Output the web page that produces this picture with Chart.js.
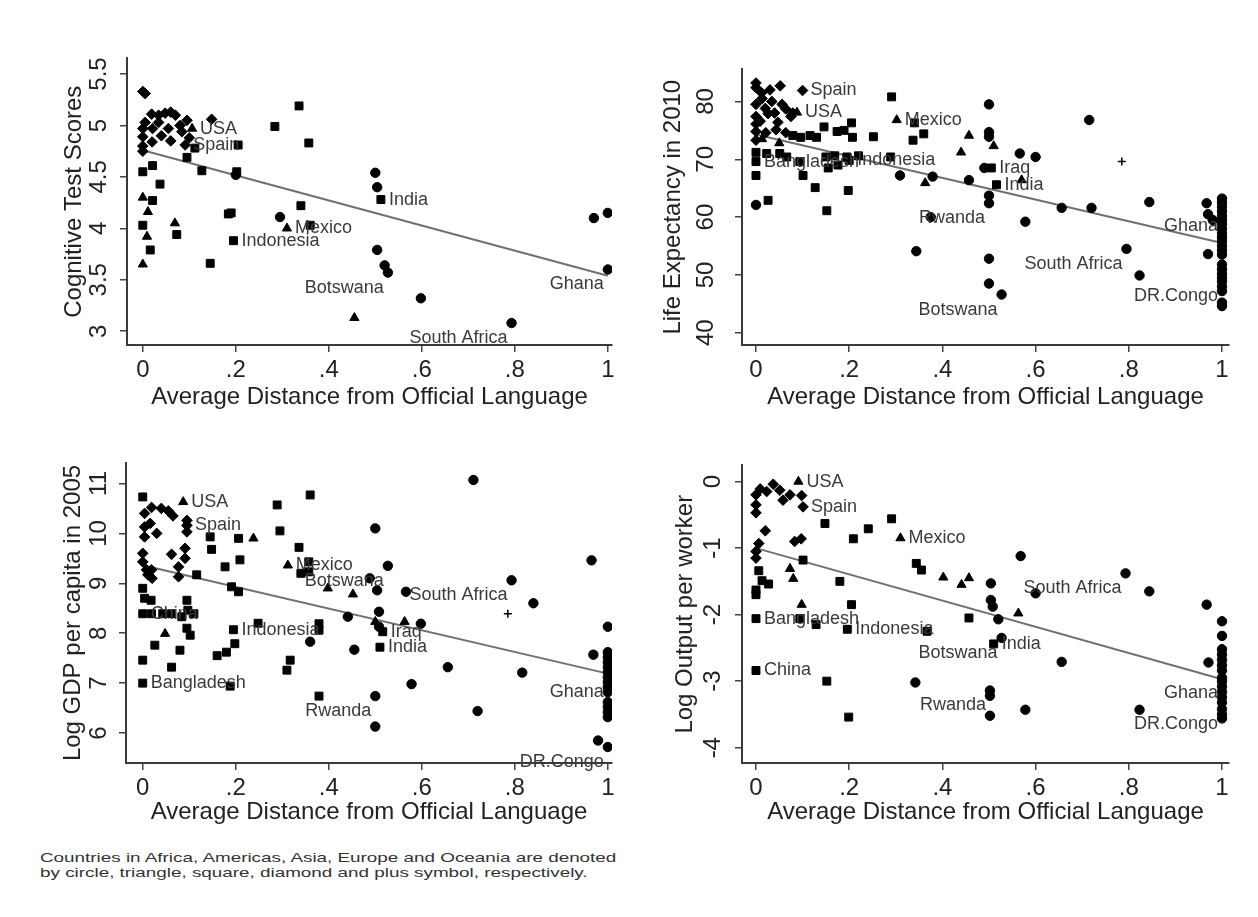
<!DOCTYPE html>
<html>
<head>
<meta charset="utf-8">
<title>Distance from official language</title>
<script src="https://cdn.jsdelivr.net/npm/chart.js@4.4.0/dist/chart.umd.min.js"></script>
<style>
  html, body { margin: 0; padding: 0; background: #fff; }
  body { width: 1258px; height: 917px; position: relative; overflow: hidden; }
  canvas { position: absolute; }
  #note {
    position: absolute; left: 40px; top: 850px;
    font: 13px "Liberation Sans", Arial, sans-serif; line-height: 15px; color: #333;
    white-space: nowrap; transform: scaleX(1.45); transform-origin: 0 0;
  }
</style>
</head>
<body>
<canvas id="p1" width="585" height="380" style="left:40px;top:40px"></canvas>
<canvas id="p2" width="590" height="380" style="left:650px;top:40px"></canvas>
<canvas id="p3" width="585" height="390" style="left:40px;top:440px"></canvas>
<canvas id="p4" width="590" height="390" style="left:650px;top:440px"></canvas>
<div id="note">Countries in Africa, Americas, Asia, Europe and Oceania are denoted<br>by circle, triangle, square, diamond and plus symbol, respectively.</div>
<script>
// shared x axis
const xTitle = 'Average Distance from Official Language';
const xTickValues = [0, 0.2, 0.4, 0.6, 0.8, 1];
const xTickLabels = ['0', '.2', '.4', '.6', '.8', '1'];

// panel 1: cognitive test scores
const cogAfrica = [[.2,4.52],[.295,4.11],[.5,4.54],[.504,4.4],[.504,3.79],[.52,3.64],[.527,3.57],[.598,3.32],[.793,3.08],[.97,4.1],[1,4.15],[1,3.6]];
const cogAmericas = [[.106,4.97],[0,4.30],[.011,4.16],[.069,4.05],[.009,3.92],[0,3.65],[.31,4.0],[.455,3.13]];
const cogAsia = [[.205,4.81],[.284,4.99],[.336,5.19],[.357,4.83],[.127,4.56],[.202,4.55],[0,4.55],[.021,4.61],[.037,4.43],[.021,4.27],[0,4.03],[.073,3.94],[.016,3.79],[.145,3.66],[.184,4.14],[.19,4.15],[.195,3.88],[.36,4.03],[.34,4.22],[.512,4.28],[.112,4.78],[.095,4.69]];
const cogEurope = [[0,5.33],[.005,5.31],[.048,5.12],[.019,5.11],[.034,5.1],[.06,5.13],[.005,5.03],[.034,5.03],[.055,4.97],[0,4.97],[.021,4.97],[0,4.89],[0,4.8],[0,4.75],[.095,5.05],[.148,5.06],[.084,4.94],[.091,4.81],[.07,5.1],[.08,5.0],[.04,4.9],[.06,4.85],[.1,4.88],[.02,4.84]];
const cogOceania = [];
const cogFit = [[0,4.76],[1,3.54]];
const cogLabels = [['USA',.106,4.97],['Spain',.091,4.81],['Indonesia',.195,3.88],['Mexico',.31,4.0],['India',.512,4.28],['Botswana',.527,3.57],['South Africa',.793,3.08],['Ghana',1,3.6]];
const cogTicks = [3, 3.5, 4, 4.5, 5, 5.5];
const cogTickLabels = ['3', '3.5', '4', '4.5', '5', '5.5'];

// panel 2: life expectancy
const lifeAfrica = [[.375,60],[.309,67.2],[.379,67],[.5,79.5],[.5,74.7],[.5,73.9],[.566,71],[.6,70.4],[.49,68.5],[.457,66.4],[.5,63.7],[.5,62.4],[.656,61.6],[.72,61.6],[.844,62.6],[.715,76.8],[.578,59.2],[.344,54.1],[.5,52.8],[.795,54.5],[.823,49.9],[.5,48.5],[.527,46.6],[.967,62.4],[.97,60.5],[.98,59.5],[.97,53.6],[1,63.2],[1,62.5],[1,61.8],[1,61],[1,60.2],[1,59.5],[1,58.8],[1,58],[1,57.2],[1,56.5],[1,55.8],[1,55],[1,54.2],[1,53.5],[1,51.8],[1,51],[1,50.2],[1,49.5],[1,48.9],[1,48],[1,47.2],[1,45.2],[1,44.6],[0,62.1]];
const lifeAmericas = [[.088,78.1],[.302,76.8],[.363,65.9],[.44,71.2],[.457,74.1],[.51,72.3],[.57,66.4],[.013,73.5],[.05,72.8]];
const lifeAsia = [[.291,80.8],[.079,74.1],[.096,73.8],[.116,74.1],[.13,73.8],[.146,75.6],[.174,74.8],[.189,75],[.205,76.3],[.207,73.8],[.252,73.9],[.34,76.3],[.337,73.3],[.36,74.4],[0,71.2],[0,69.6],[.023,71],[.051,71],[.066,70.4],[.094,69.6],[.15,70.4],[.169,70.6],[.176,69],[.155,68.5],[.195,70.4],[.2,69.8],[.22,70.6],[.289,70.4],[0,67.2],[.101,67.2],[.127,65.1],[.198,64.6],[.026,62.9],[.152,61.1],[.505,68.5],[.516,65.6]];
const lifeEurope = [[0,83.2],[.052,82.7],[.1,81.9],[0,82.4],[0,79.5],[.013,80.5],[.034,80],[.056,79.5],[.064,78.7],[.079,78],[0,77.4],[0,76.1],[.009,76.6],[.026,77.9],[.047,76.4],[.075,77.4],[0,74.8],[0,73.3],[.021,74.6],[.043,75.1],[.064,74.6],[.012,81.5],[.03,82],[.02,78.8],[.04,78]];
const lifeOceania = [[.785,69.6]];
const lifeFit = [[0,74.3],[1,55.5]];
const lifeLabels = [['Spain',.1,81.9],['USA',.088,78.1],['Mexico',.302,76.8],['Bangladesh',0,69.6],['Indonesia',.2,69.8],['Iraq',.505,68.5],['India',.516,65.6],['Rwanda',.5,62.4],['Botswana',.527,46.6],['South Africa',.795,54.5],['Ghana',1,61],['DR.Congo',1,48.9]];
const lifeTicks = [40, 50, 60, 70, 80];
const lifeTickLabels = ['40', '50', '60', '70', '80'];

// panel 3: log GDP per capita
const gdpAfrica = [[.711,11.07],[.5,10.1],[.488,9.1],[.504,8.86],[.527,9.35],[.566,8.83],[.793,9.06],[.84,8.6],[.965,9.46],[1,8.13],[.969,7.57],[.508,8.43],[.441,8.33],[.508,8.13],[.598,8.19],[.455,7.67],[.36,7.83],[.578,6.98],[.656,7.32],[.816,7.21],[.72,6.44],[.5,6.74],[.5,6.13],[.979,5.85],[1,5.72],[1,7.62],[1,7.52],[1,7.42],[1,7.32],[1,7.22],[1,7.12],[1,7.02],[1,6.92],[1,6.82],[1,6.62],[1,6.52],[1,6.42],[1,6.32]];
const gdpAmericas = [[.087,10.63],[.238,9.9],[.312,9.36],[.398,8.9],[.452,8.78],[.5,8.23],[.563,8.23],[.048,7.99]];
const gdpAsia = [[0,10.73],[.145,9.93],[.206,9.9],[.148,9.68],[.209,9.47],[.177,9.33],[.116,9.17],[.191,8.93],[.206,8.83],[0,8.9],[.004,8.7],[.018,8.66],[0,8.39],[.019,8.39],[.043,8.39],[.062,8.39],[.084,8.33],[.097,8.46],[.11,8.39],[.095,8.66],[.102,7.96],[.095,8.1],[.195,8.07],[.248,8.2],[.198,7.79],[.18,7.62],[.16,7.55],[.026,7.76],[.08,7.66],[0,7.46],[.062,7.32],[0,7.0],[.188,6.94],[.289,10.57],[.295,10.05],[.36,10.77],[.336,9.72],[.357,9.43],[.34,9.2],[.357,9.23],[.516,8.03],[.51,7.72],[.379,8.19],[.379,8.06],[.317,7.46],[.31,7.26],[.379,6.74]];
const gdpEurope = [[.004,10.4],[.019,10.52],[.04,10.5],[.055,10.45],[.065,10.35],[.004,10.13],[.016,10.2],[.004,9.93],[.03,10.0],[.095,10.26],[.095,10.16],[.095,10.03],[.091,9.7],[.091,9.5],[.077,9.33],[.062,9.58],[0,9.6],[0,9.43],[.008,9.27],[.019,9.27],[.011,9.17],[.02,9.1],[.077,9.13]];
const gdpOceania = [[.785,8.39]];
const gdpFit = [[0,9.36],[1,7.19]];
const gdpLabels = [['USA',.087,10.63],['Spain',.095,10.16],['Mexico',.312,9.36],['Botswana',.527,9.35],['South Africa',.793,9.06],['China',0,8.39],['Indonesia',.195,8.07],['Iraq',.516,8.03],['India',.51,7.72],['Bangladesh',0,7.0],['Rwanda',.5,6.74],['Ghana',1,7.12],['DR.Congo',1,5.72]];
const gdpTicks = [6, 7, 8, 9, 10, 11];
const gdpTickLabels = ['6', '7', '8', '9', '10', '11'];

// panel 4: log output per worker
const outAfrica = [[.568,-1.12],[.504,-1.53],[.793,-1.38],[.844,-1.65],[.6,-1.68],[.504,-1.78],[.508,-1.88],[.52,-2.07],[.527,-2.35],[.656,-2.71],[.342,-3.02],[.502,-3.14],[.502,-3.22],[.502,-3.52],[.578,-3.43],[.823,-3.43],[.967,-1.85],[1,-2.1],[1,-2.32],[.971,-2.72],[1,-2.52],[1,-2.6],[1,-2.68],[1,-2.76],[1,-2.84],[1,-2.95],[1,-3.0],[1,-3.08],[1,-3.16],[1,-3.24],[1,-3.32],[1,-3.42],[1,-3.5],[1,-3.56]];
const outAmericas = [[.091,0],[.31,-.85],[.073,-1.31],[.08,-1.46],[.098,-1.85],[.402,-1.44],[.441,-1.55],[.457,-1.45],[.563,-1.98]];
const outAsia = [[.148,-.63],[.241,-.71],[.291,-.56],[.209,-.86],[.101,-1.18],[.006,-1.34],[.013,-1.49],[.027,-1.54],[0,-1.63],[0,-1.7],[.18,-1.5],[.205,-1.85],[0,-2.06],[.094,-2.06],[.129,-2.15],[.196,-2.22],[0,-2.84],[.152,-3.0],[.344,-1.23],[.355,-1.33],[.457,-2.05],[.367,-2.25],[.51,-2.44],[.199,-3.54]];
const outEurope = [[.037,-.04],[.009,-.11],[0,-.2],[0,-.35],[0,-.47],[.023,-.15],[.051,-.13],[.058,-.28],[.073,-.2],[.098,-.21],[.101,-.38],[.083,-.9],[.097,-.86],[.02,-.74],[.006,-.93],[0,-1.05],[0,-1.15]];
const outOceania = [];
const outFit = [[0,-1.0],[1,-2.97]];
const outLabels = [['USA',.091,0],['Spain',.101,-.38],['Mexico',.31,-.85],['South Africa',.793,-1.38],['Bangladesh',0,-2.06],['Indonesia',.196,-2.22],['India',.51,-2.44],['Botswana',.527,-2.35],['China',0,-2.84],['Rwanda',.502,-3.14],['Ghana',1,-2.95],['DR.Congo',1,-3.42]];
const outTicks = [-4, -3, -2, -1, 0];
const outTickLabels = ['-4', '-3', '-2', '-1', '0'];

// these labels sit below-left of their marker, the rest to the right
const lowerLeft = ['Botswana', 'South Africa', 'Rwanda', 'Ghana', 'DR.Congo'];

const markers = {
  circle: { style: 'circle', radius: 4.7 },
  triangle: { style: 'triangle', radius: 5.3 },
  square: { style: 'rect', radius: 5.6 },
  diamond: { style: 'rectRot', radius: 5.3 },
  plus: { style: 'cross', radius: 4 }
};

Chart.defaults.font.family = '"Liberation Sans", Arial, sans-serif';
Chart.defaults.color = '#222';

const labelPlugin = {
  id: 'countryLabels',
  afterDatasetsDraw(chart, args, opts) {
    const { ctx, scales: { x, y } } = chart;
    ctx.save();
    ctx.font = '18px "Liberation Sans", Arial, sans-serif';
    ctx.fillStyle = '#3a3a3a';
    ctx.textBaseline = 'middle';
    opts.items.forEach(([name, vx, vy]) => {
      const px = x.getPixelForValue(vx);
      const py = y.getPixelForValue(vy);
      if (lowerLeft.includes(name)) {
        ctx.textAlign = 'right';
        ctx.fillText(name, px - 4, py + 15);
      } else {
        ctx.textAlign = 'left';
        ctx.fillText(name, px + 8, py);
      }
    });
    ctx.restore();
  }
};

function makePanel(id, groups, fit, labels, cfg) {
  const datasets = groups.map(([pts, kind]) => ({
    data: pts.map(p => ({ x: p[0], y: p[1] })),
    pointStyle: markers[kind].style,
    pointRadius: markers[kind].radius,
    backgroundColor: '#000',
    borderColor: '#000',
    borderWidth: kind === 'plus' ? 1.5 : 1
  }));
  datasets.push({
    data: fit.map(p => ({ x: p[0], y: p[1] })),
    showLine: true,
    pointRadius: 0,
    borderColor: '#707070',
    borderWidth: 2
  });

  new Chart(document.getElementById(id), {
    type: 'scatter',
    data: { datasets },
    options: {
      responsive: false,
      animation: false,
      devicePixelRatio: 1,
      layout: { padding: cfg.pad },
      plugins: {
        legend: { display: false },
        tooltip: { enabled: false },
        countryLabels: { items: labels }
      },
      scales: {
        x: {
          type: 'linear', min: cfg.xMin, max: cfg.xMax,
          afterBuildTicks: a => { a.ticks = xTickValues.map(v => ({ value: v })); },
          afterFit: s => { s.height = cfg.xH; },
          ticks: { callback: (v, i) => xTickLabels[i], font: { size: 24 }, padding: 4, maxRotation: 0, autoSkip: false, color: '#222' },
          grid: { drawOnChartArea: false, drawTicks: true, tickLength: 7, color: '#444', lineWidth: 1.5 },
          border: { display: true, color: '#3a3a3a', width: 2 },
          title: { display: true, text: xTitle, font: { size: 24 }, color: '#222', padding: { top: 0, bottom: cfg.xTitlePad } }
        },
        y: {
          type: 'linear', min: cfg.yMin, max: cfg.yMax,
          afterBuildTicks: a => { a.ticks = cfg.ticks.map(v => ({ value: v })); },
          afterFit: s => { s.width = cfg.yW; },
          ticks: { callback: (v, i) => cfg.tickLabels[i], font: { size: 24 }, padding: cfg.yTickPad, minRotation: 90, maxRotation: 90, crossAlign: 'center', autoSkip: false, color: '#222' },
          grid: { drawOnChartArea: false, drawTicks: true, tickLength: 7, color: '#444', lineWidth: 1.5 },
          border: { display: true, color: '#3a3a3a', width: 2 },
          title: { display: true, text: cfg.yTitle, font: { size: 24 }, color: '#222', padding: { top: cfg.yTitlePad, bottom: 0 } }
        }
      }
    },
    plugins: [labelPlugin]
  });
}

makePanel('p1',
  [[cogAfrica, 'circle'], [cogAmericas, 'triangle'], [cogAsia, 'square'], [cogEurope, 'diamond'], [cogOceania, 'plus']],
  cogFit, cogLabels,
  { pad: { top: 7, right: 13, left: 0, bottom: 0 }, xMin: -0.034, xMax: 1.009, xH: 75, xTitlePad: 8,
    yMin: 2.866, yMax: 5.652, ticks: cogTicks, tickLabels: cogTickLabels, yW: 87, yTickPad: 4,
    yTitle: 'Cognitive Test Scores', yTitlePad: 20 });

makePanel('p2',
  [[lifeAfrica, 'circle'], [lifeAmericas, 'triangle'], [lifeAsia, 'square'], [lifeEurope, 'diamond'], [lifeOceania, 'plus']],
  lifeFit, lifeLabels,
  { pad: { top: 7, right: 11, left: 0, bottom: 0 }, xMin: -0.03, xMax: 1.015, xH: 75, xTitlePad: 8,
    yMin: 37.87, yMax: 85.55, ticks: lifeTicks, tickLabels: lifeTickLabels, yW: 92, yTickPad: 15,
    yTitle: 'Life Expectancy in 2010', yTitlePad: 9 });

makePanel('p3',
  [[gdpAfrica, 'circle'], [gdpAmericas, 'triangle'], [gdpAsia, 'square'], [gdpEurope, 'diamond'], [gdpOceania, 'plus']],
  gdpFit, gdpLabels,
  { pad: { top: 23, right: 13, left: 0, bottom: 0 }, xMin: -0.036, xMax: 1.009, xH: 67, xTitlePad: 3,
    yMin: 5.40, yMax: 11.41, ticks: gdpTicks, tickLabels: gdpTickLabels, yW: 86, yTickPad: 6,
    yTitle: 'Log GDP per capita in 2005', yTitlePad: 19 });

makePanel('p4',
  [[outAfrica, 'circle'], [outAmericas, 'triangle'], [outAsia, 'square'], [outEurope, 'diamond'], [outOceania, 'plus']],
  outFit, outLabels,
  { pad: { top: 23, right: 11, left: 0, bottom: 0 }, xMin: -0.03, xMax: 1.015, xH: 67, xTitlePad: 3,
    yMin: -4.23, yMax: 0.243, ticks: outTicks, tickLabels: outTickLabels, yW: 92, yTickPad: 11,
    yTitle: 'Log Output per worker', yTitlePad: 21 });
</script>
</body>
</html>
